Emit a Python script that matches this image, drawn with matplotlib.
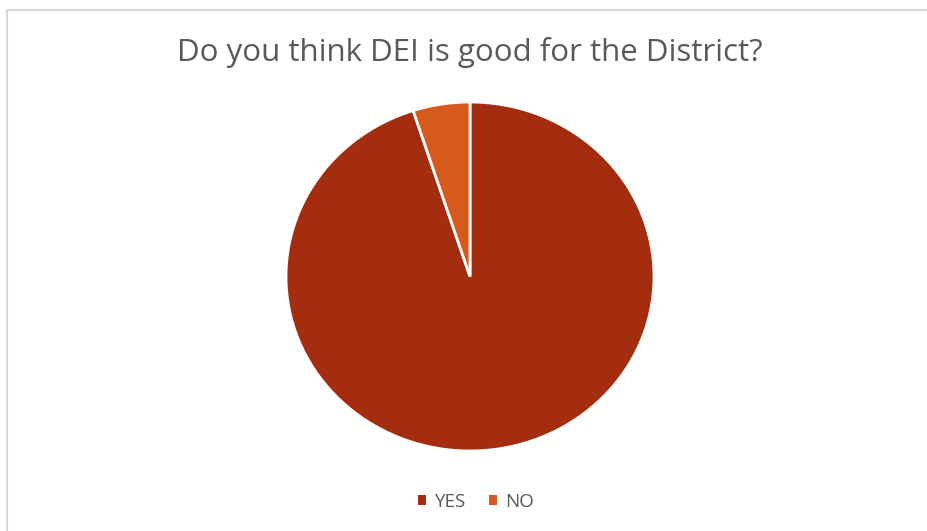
import matplotlib
matplotlib.use("Agg")
import matplotlib.pyplot as plt
from matplotlib.patches import Rectangle, Patch

# survey answers
labels = ["YES", "NO"]
shares = [95, 5]
colors = ["#A42C0F", "#D65A1B"]
title = "Do you think DEI is good for the District?"

plt.rcParams['font.family'] = ['Open Sans', 'DejaVu Sans']

W, H = 927, 531
fig = plt.figure(figsize=(W / 100, H / 100), dpi=100)
fig.patch.set_facecolor("white")

# light frame on the top and left edges
fig.add_artist(Rectangle((7 / W, -0.1), 1.2, (H - 10) / H + 0.1,
                         transform=fig.transFigure, fill=False,
                         edgecolor="#D9D9D9", linewidth=1.5))

ax = fig.add_axes([286 / W, (H - 451) / H, 368 / W, 349 / H])
wedges, _ = ax.pie(shares, colors=colors, startangle=90, counterclock=False,
                   wedgeprops=dict(edgecolor="white", linewidth=2))
ax.set_aspect("auto")
ax.set_xlim(-1.0, 1.0)
ax.set_ylim(-1.0, 1.0)

fig.text(470 / W, 1 - 52 / H, title, ha="center", va="center",
         fontsize=22.5, color="#595959")

# legend keys without the white wedge outline
handles = [Patch(facecolor=w.get_facecolor(), edgecolor="none") for w in wedges]
fig.legend(handles, labels, loc="center", bbox_to_anchor=(476 / W, 1 - 502 / H),
           ncol=2, frameon=False, handlelength=0.45, handleheight=0.45,
           handletextpad=0.45, columnspacing=1.2, fontsize=13.5,
           labelcolor="#595959")

fig.savefig("out.png", dpi=100)
